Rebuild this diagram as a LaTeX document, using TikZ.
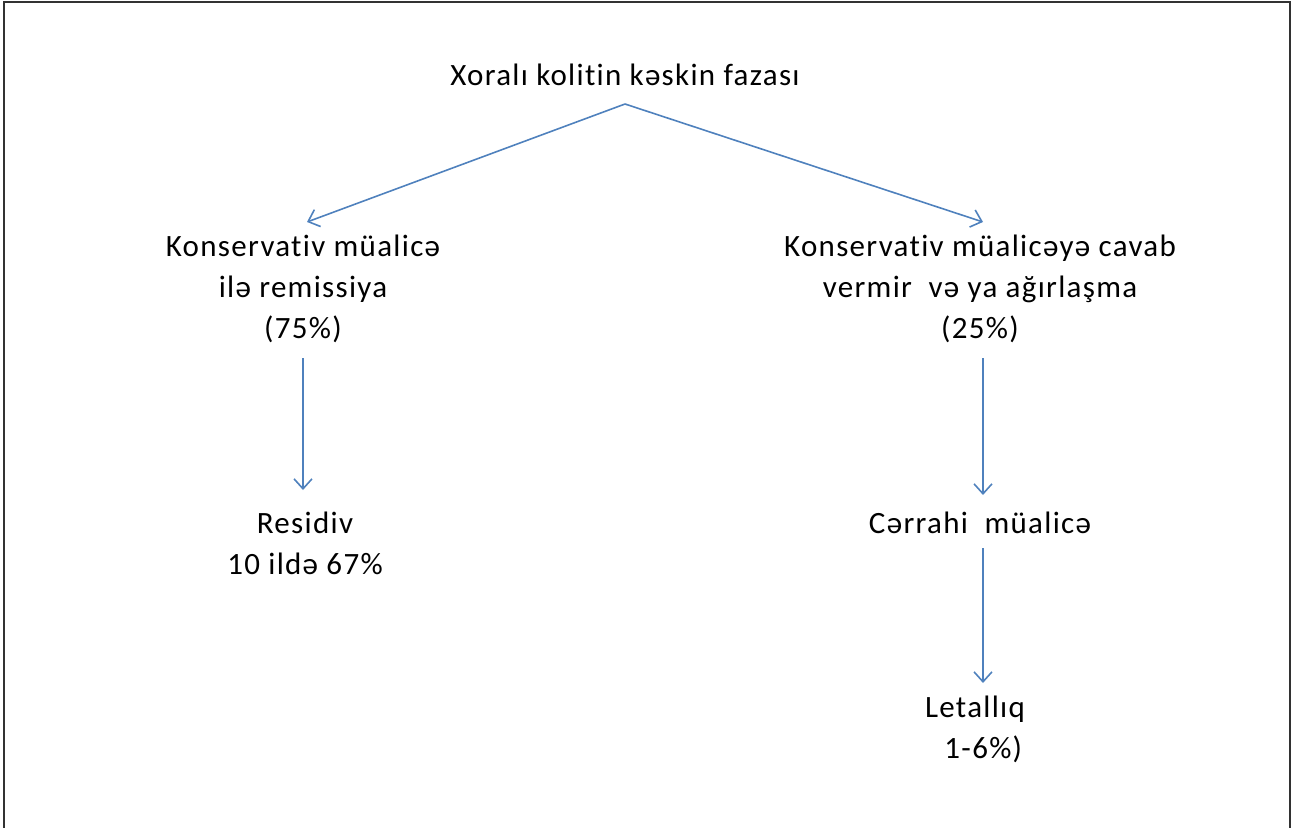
\documentclass[tikz,border=0pt]{standalone}
\usepackage{fontspec}
\setmainfont[Ligatures={NoCommon},LetterSpace=4.2]{Carlito}
\usetikzlibrary{arrows.meta}
\definecolor{arrowblue}{RGB}{79,129,189}
\definecolor{framegray}{RGB}{50,50,50}
\tikzset{
  lbl/.style={align=center, inner sep=0pt, font=\fontsize{31}{41}\selectfont, text=black},
  conn/.style={draw=arrowblue, line width=1.6pt, -{Straight Barb[length=10pt,width=18pt,line width=1.6pt]}}
}
\begin{document}
\begin{tikzpicture}[x=1pt,y=-1pt]
\useasboundingbox (0,0) rectangle (1295,827);
\draw[framegray, line width=2pt] (4,840) -- (4,2) -- (1290,2) -- (1290,840);
\node[lbl] (top) at (625,75) {Xoralı kolitin kəskin fazası};
\coordinate (apex) at (625,104);
\node[lbl] (left) at (303,289) {Konservativ müalicə\\ilə remissiya\\(75\%)};
\node[lbl] (right) at (980,289) {Konservativ müalicəyə cavab\\vermir\ \ və ya ağırlaşma\\(25\%)};
\node[lbl] (res) at (305,543) {Residiv\\10 ildə 67\%};
\node[lbl] (surg) at (980,523) {Cərrahi\ \ müalicə};
\node[lbl] (let) at (975,729) {Letallıq\\\ \ 1-6\%)};
\coordinate (lt) at (307,222);
\coordinate (rt) at (983,222);
\draw[conn] (apex) -- (lt);
\draw[conn] (apex) -- (rt);
\draw[conn] (303,358) -- (303,490);
\draw[conn] (983,358) -- (983,495);
\draw[conn] (983,548) -- (983,683);
\end{tikzpicture}
\end{document}
